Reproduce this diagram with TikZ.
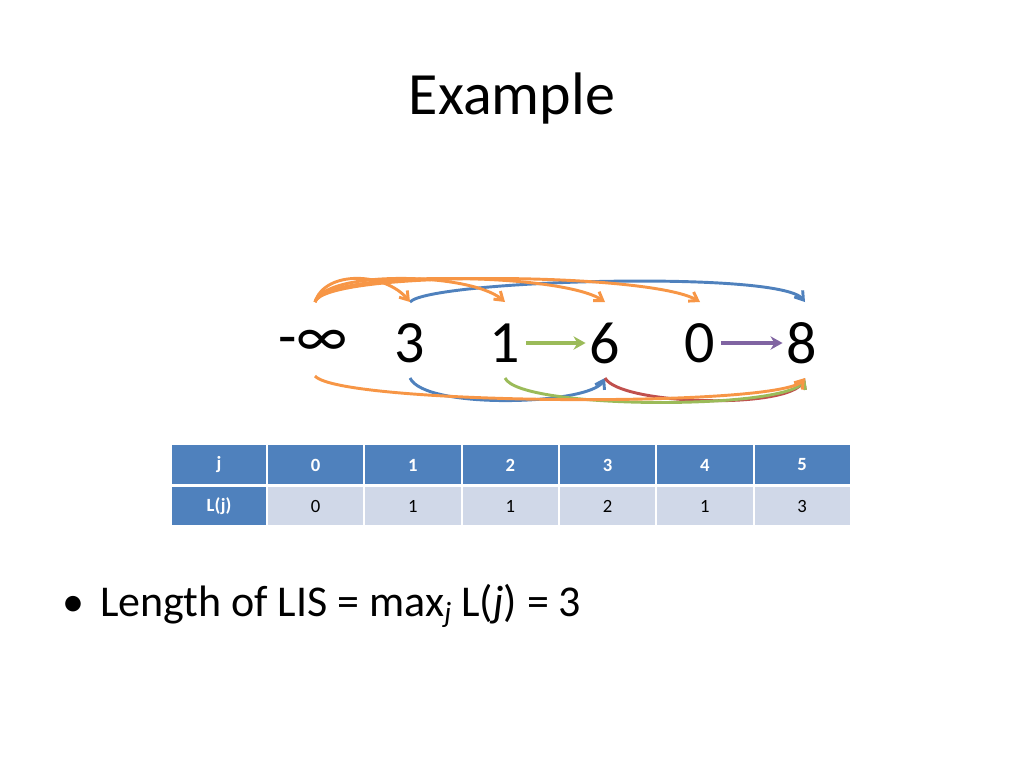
\documentclass[tikz,border=0pt]{standalone}
\usepackage{fontspec}
\setmainfont{Carlito}
\usetikzlibrary{arrows.meta}
\definecolor{hdr}{HTML}{4F81BD}
\definecolor{cellb}{HTML}{D0D8E8}
\definecolor{oarc}{HTML}{F79646}
\definecolor{barc}{HTML}{4F81BD}
\definecolor{garc}{HTML}{9BBB59}
\definecolor{rarc}{HTML}{C0504D}
\definecolor{parc}{HTML}{8064A2}
\begin{document}
\begin{tikzpicture}[x=0.75pt,y=-0.75pt,
  num/.style={font=\fontsize{45}{50}\selectfont,inner sep=0pt},
  arc/.style={line width=2.2pt,-{Straight Barb[length=6pt,width=8pt]}},
  hd/.style={font=\fontsize{14}{16}\selectfont\bfseries,text=white},
  bd/.style={font=\fontsize{14}{16}\selectfont}]
\useasboundingbox (0,0) rectangle (1024,768);
\node[font=\fontsize{45}{50}\selectfont] (title) at (512,98) {Example};
\node[num] (n0) at (313,343) {-∞};
\node[num] (n1) at (410,343) {3};
\node[num] (n2) at (505,343) {1};
\node[num] (n3) at (605,343) {6};
\node[num] (n4) at (700,343) {0};
\node[num] (n5) at (802,343) {8};
\coordinate (t0) at (315,302);
\foreach \i/\x in {1/410,2/505,3/605,4/700,5/805}{\coordinate (t\i) at (\x,302); \coordinate (b\i) at (\x,378);}
\coordinate (b0) at (315,376);
% top arcs
\draw[arc,barc] (t1) .. controls (430,280) and (780,270) .. (t5);
\foreach \i/\c in {1/385,2/470,3/560,4/650}{
  \draw[arc,oarc] (t0) .. controls (325,270) and (\c,272) .. (t\i);}
% bottom arcs
\draw[arc,barc] (b1) .. controls (425,410) and (590,405) .. (b3);
\draw[arc,rarc] (b3) .. controls (620,405) and (790,410) .. (b5);
\draw[arc,garc] (b2) .. controls (520,410) and (790,410) .. (b5);
\draw[arc,oarc] (b0) .. controls (340,405) and (780,408) .. (b5);
% straight arrows
\draw[line width=2.5pt,garc,-{Stealth[length=9pt,width=10pt]}] ([xshift=4pt]n2.east) -- ([xshift=-3pt]n3.west);
\draw[line width=2.5pt,parc,-{Stealth[length=9pt,width=10pt]}] ([xshift=4pt]n4.east) -- ([xshift=-3pt]n5.west);
% table
\fill[hdr] (172,445) rectangle (266,484);
\fill[hdr] (172,487) rectangle (266,525);
\node[hd] (h0) at (219,465) {j};
\node[hd] (v0) at (219,506) {L(j)};
\foreach \c/\t/\v in {1/0/0,2/1/1,3/2/1,4/3/2,5/4/1,6/5/3}{
  \pgfmathsetmacro\xl{268+97.3*(\c-1)}
  \pgfmathsetmacro\xr{268+97.3*\c-2}
  \fill[hdr] (\xl,445) rectangle (\xr,484);
  \fill[cellb] (\xl,487) rectangle (\xr,525);
  \node[hd] (h\c) at ({(\xl+\xr)/2},465) {\t};
  \node[bd] (v\c) at ({(\xl+\xr)/2},506) {\v};
}
\node[anchor=west,font=\fontsize{33}{38}\selectfont] (bul) at (58,606) {\textbullet\hspace{0.35em}Length of LIS = max\raisebox{-0.3ex}{\fontsize{22}{24}\selectfont\itshape j} L(\textit{j}) = 3};
\end{tikzpicture}
\end{document}
